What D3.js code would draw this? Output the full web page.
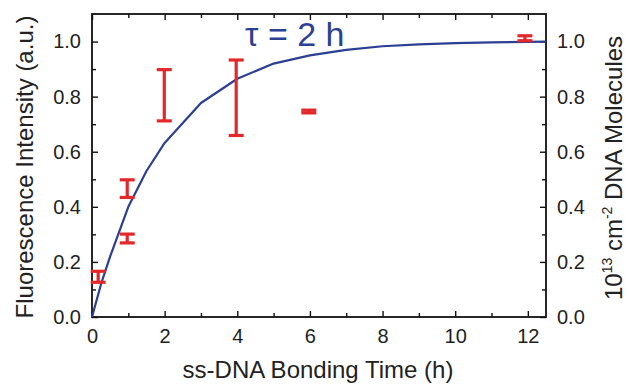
<!DOCTYPE html>
<html><head><meta charset="utf-8">
<script src="https://cdn.jsdelivr.net/npm/d3@7"></script>
<style>body{margin:0;background:#fff}svg{display:block}text{font-family:"Liberation Sans",Arial,sans-serif}</style>
</head><body>
<svg id="c" width="630" height="392"></svg>
<script>
// Measured data (time in hours, normalised intensity)
const pointTimes = [0.17, 0.97, 0.97, 1.99, 3.97, 5.97, 11.92];
const pointValues = [0.146, 0.285, 0.466, 0.805, 0.796, 0.746, 1.012];
const pointErrors = [0.020, 0.016, 0.032, 0.093, 0.137, 0.005, 0.009];
// Fit curve (tau = 2 h)
const fitTimes = [0, 0.25, 0.5, 0.75, 1, 1.5, 2, 3, 4, 5, 6, 7, 8, 9, 10, 11, 12, 12.5];
const fitValues = [0, 0.12, 0.22, 0.31, 0.40, 0.53, 0.632, 0.777, 0.865, 0.92, 0.95, 0.97, 0.983, 0.99, 0.994, 0.997, 0.999, 1.0];
const xTicks = [0, 2, 4, 6, 8, 10, 12];
const yTicks = [0.0, 0.2, 0.4, 0.6, 0.8, 1.0];

const svg = d3.select("#c");
const m = {l: 92, r: 84, t: 14, b: 75};
const W = 630, H = 392;
const x = d3.scaleLinear().domain([0, 12.5]).range([m.l, W - m.r]);
const y = d3.scaleLinear().domain([0, 1.1]).range([H - m.b, m.t]);
const blue = "#2b3f94", red = "#e2282b";

const minorX = d3.range(1, 13, 2);
const minorY = d3.range(0.1, 1.1, 0.2);

function styleAxis(g) {
  g.select(".domain").remove();
  g.selectAll("line").attr("stroke", "#111").attr("stroke-width", 1.4);
  g.selectAll("text").attr("font-size", 20).attr("fill", "#222");
}
// bottom
svg.append("g").attr("transform", `translate(0,${y(0)})`)
  .call(d3.axisBottom(x).tickValues(xTicks).tickFormat(d3.format("d")).tickSize(-6).tickPadding(10))
  .call(styleAxis).call(g => g.selectAll("text").attr("dy", "0.78em"));
svg.append("g").attr("transform", `translate(0,${y(0)})`)
  .call(d3.axisBottom(x).tickValues(minorX).tickFormat("").tickSize(-4)).call(styleAxis);
// top
svg.append("g").attr("transform", `translate(0,${y(1.1)})`)
  .call(d3.axisTop(x).tickValues(xTicks).tickFormat("").tickSize(-6)).call(styleAxis);
svg.append("g").attr("transform", `translate(0,${y(1.1)})`)
  .call(d3.axisTop(x).tickValues(minorX).tickFormat("").tickSize(-4)).call(styleAxis);
// left
svg.append("g").attr("transform", `translate(${x(0)},0)`)
  .call(d3.axisLeft(y).tickValues(yTicks).tickFormat(d3.format(".1f")).tickSize(-6).tickPadding(11))
  .call(styleAxis);
svg.append("g").attr("transform", `translate(${x(0)},0)`)
  .call(d3.axisLeft(y).tickValues(minorY).tickFormat("").tickSize(-4)).call(styleAxis);
// right
svg.append("g").attr("transform", `translate(${x(12.5)},0)`)
  .call(d3.axisRight(y).tickValues(yTicks).tickFormat(d3.format(".1f")).tickSize(-6).tickPadding(11))
  .call(styleAxis);
svg.append("g").attr("transform", `translate(${x(12.5)},0)`)
  .call(d3.axisRight(y).tickValues(minorY).tickFormat("").tickSize(-4)).call(styleAxis);

// frame
svg.append("rect").attr("x", x(0)).attr("y", y(1.1)).attr("width", x(12.5) - x(0)).attr("height", y(0) - y(1.1))
  .attr("fill", "none").attr("stroke", "#111").attr("stroke-width", 1.8);

// fit curve
const fit = fitTimes.map((t, i) => [t, fitValues[i]]);
svg.append("path").datum(fit)
  .attr("d", d3.line().x(d => x(d[0])).y(d => y(d[1])))
  .attr("fill", "none").attr("stroke", blue).attr("stroke-width", 2.2).attr("stroke-linejoin", "round");

// error bars
const pts = pointTimes.map((t, i) => ({t, v: pointValues[i], e: pointErrors[i]}));
const eg = svg.append("g").attr("stroke", red).attr("stroke-width", 3.2).attr("fill", "none");
const cap = 7.5;
pts.forEach(p => {
  const cx = x(p.t), y1 = y(p.v + p.e), y2 = y(p.v - p.e);
  eg.append("line").attr("x1", cx).attr("x2", cx).attr("y1", y1).attr("y2", y2);
  eg.append("line").attr("x1", cx - cap).attr("x2", cx + cap).attr("y1", y1).attr("y2", y1);
  eg.append("line").attr("x1", cx - cap).attr("x2", cx + cap).attr("y1", y2).attr("y2", y2);
});

// annotation
svg.append("text").attr("x", 245).attr("y", 46).attr("font-size", 34).attr("fill", blue)
  .text("τ = 2 h");

// axis titles
svg.append("text").attr("x", (x(0) + x(12.5)) / 2 - 1).attr("y", 378).attr("text-anchor", "middle")
  .attr("font-size", 24).attr("fill", "#222").text("ss-DNA Bonding Time (h)");
svg.append("text").attr("transform", "translate(33,167) rotate(-90)").attr("text-anchor", "middle")
  .attr("font-size", 24).attr("fill", "#222").text("Fluorescence Intensity (a.u.)");
const rt = svg.append("text").attr("transform", "translate(622,168) rotate(-90)").attr("text-anchor", "middle")
  .attr("font-size", 24).attr("fill", "#222");
rt.append("tspan").text("10");
rt.append("tspan").attr("font-size", 14).attr("dy", -10).text("13");
rt.append("tspan").attr("dy", 10).text(" cm");
rt.append("tspan").attr("font-size", 14).attr("dy", -10).text("-2");
rt.append("tspan").attr("dy", 10).text(" DNA Molecules");
</script>
</body></html>
